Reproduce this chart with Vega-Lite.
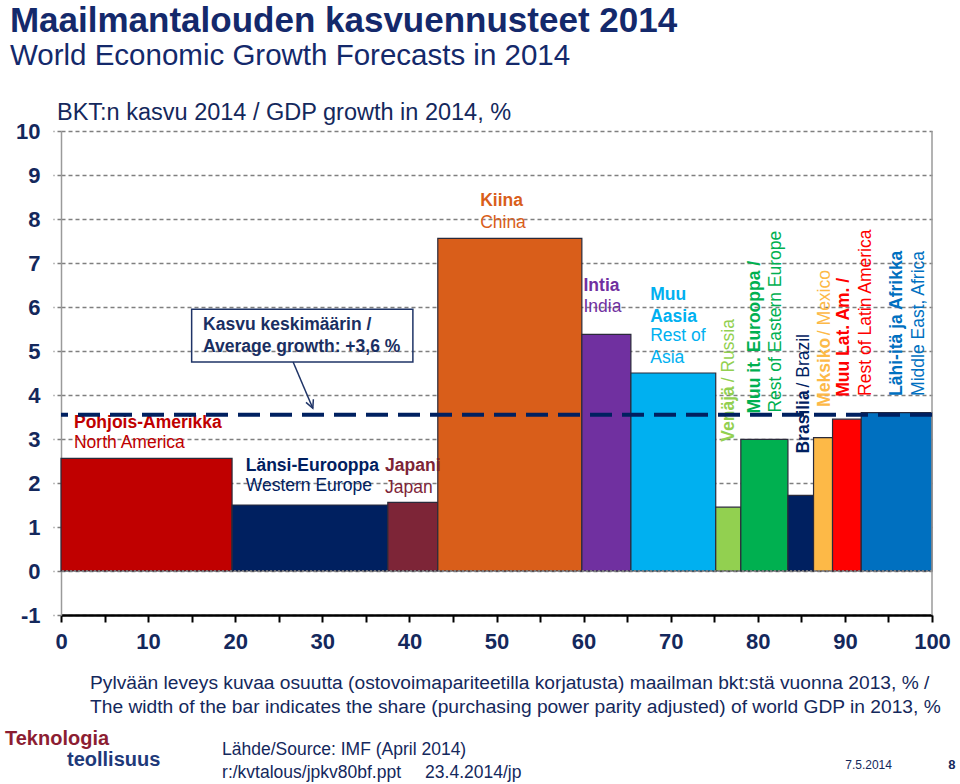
{
  "$schema": "https://vega.github.io/schema/vega-lite/v6.json",
  "width": 871,
  "height": 484,
  "autosize": "none",
  "padding": {"left": 61, "top": 131, "right": 28, "bottom": 169},
  "background": "white",
  "config": {"font": "Liberation Sans", "view": {"stroke": null}},
  "data": {"values": [{}]},
  "datasets": {
    "bars": [
      {"region": "North America", "x0": 0, "x1": 19.64, "growth": 2.56},
      {"region": "Western Europe", "x0": 19.64, "x1": 37.52, "growth": 1.5},
      {"region": "Japan", "x0": 37.52, "x1": 43.26, "growth": 1.56},
      {"region": "China", "x0": 43.26, "x1": 59.8, "growth": 7.56},
      {"region": "India", "x0": 59.8, "x1": 65.43, "growth": 5.38},
      {"region": "Rest of Asia", "x0": 65.43, "x1": 75.17, "growth": 4.5},
      {"region": "Russia", "x0": 75.17, "x1": 78.05, "growth": 1.45},
      {"region": "Rest of Eastern Europe", "x0": 78.05, "x1": 83.46, "growth": 2.99},
      {"region": "Brazil", "x0": 83.46, "x1": 86.4, "growth": 1.72},
      {"region": "Mexico", "x0": 86.4, "x1": 88.58, "growth": 3.03},
      {"region": "Rest of Latin America", "x0": 88.58, "x1": 91.88, "growth": 3.45},
      {"region": "Middle East and Africa", "x0": 91.88, "x1": 100, "growth": 3.6}
    ],
    "labelsBold": [
      {"region": "North America", "label": "Pohjois-Amerikka", "x": 1.49, "y": 3.37},
      {"region": "Western Europe", "label": "Länsi-Eurooppa", "x": 21.21, "y": 2.39},
      {"region": "Japan", "label": "Japani", "x": 37.21, "y": 2.39},
      {"region": "China", "label": "Kiina", "x": 48.12, "y": 8.42},
      {"region": "India", "label": "Intia", "x": 59.99, "y": 6.48},
      {"region": "Rest of Asia", "label": "Muu", "x": 67.65, "y": 6.27},
      {"region": "Rest of Asia", "label": "Aasia", "x": 67.65, "y": 5.78}
    ],
    "labelsPlain": [
      {"region": "North America", "label": "North America", "x": 1.49, "y": 2.91},
      {"region": "Western Europe", "label": "Western Europe", "x": 21.21, "y": 1.93},
      {"region": "Japan", "label": "Japan", "x": 37.21, "y": 1.89},
      {"region": "China", "label": "China", "x": 48.12, "y": 7.92},
      {"region": "India", "label": "India", "x": 59.99, "y": 6.0},
      {"region": "Rest of Asia", "label": "Rest of", "x": 67.65, "y": 5.33},
      {"region": "Rest of Asia", "label": "Asia", "x": 67.65, "y": 4.84}
    ],
    "vlabelsBold": [
      {"region": "Russia", "label": "Venäjä", "x": 76.7, "y": 2.94},
      {"region": "Rest of Eastern Europe", "label": "Muu it. Eurooppa /", "x": 79.7, "y": 3.58},
      {"region": "Brazil", "label": "Brasilia", "x": 85.25, "y": 2.67},
      {"region": "Mexico", "label": "Meksiko", "x": 87.75, "y": 3.73},
      {"region": "Rest of Latin America", "label": "Muu Lat. Am. /", "x": 89.85, "y": 3.96},
      {"region": "Middle East and Africa", "label": "Lähi-itä ja Afrikka", "x": 96.0, "y": 3.98}
    ],
    "vlabelsPlain": [
      {"region": "Russia", "label": "/ Russia", "x": 76.7, "y": 4.29},
      {"region": "Rest of Eastern Europe", "label": "Rest of Eastern Europe", "x": 82.1, "y": 3.6},
      {"region": "Brazil", "label": "/ Brazil", "x": 85.25, "y": 4.17},
      {"region": "Mexico", "label": "/ Mexico", "x": 87.75, "y": 5.36},
      {"region": "Rest of Latin America", "label": "Rest of Latin America", "x": 92.4, "y": 3.98},
      {"region": "Middle East and Africa", "label": "Middle East, Africa", "x": 98.5, "y": 3.98}
    ]
  },
  "layer": [
    {
      "data": {"name": "bars"},
      "mark": {"type": "rect", "stroke": "#2a2a3a", "strokeWidth": 1.2},
      "encoding": {
        "x": {
          "field": "x0", "type": "quantitative",
          "scale": {"domain": [0, 100], "nice": false, "zero": false},
          "axis": {
            "title": null,
            "values": [0, 2.5, 5, 7.5, 10, 12.5, 15, 17.5, 20, 22.5, 25, 27.5, 30, 32.5, 35, 37.5, 40, 42.5, 45, 47.5, 50, 52.5, 55, 57.5, 60, 62.5, 65, 67.5, 70, 72.5, 75, 77.5, 80, 82.5, 85, 87.5, 90, 92.5, 95, 97.5, 100],
            "labelExpr": "datum.value % 10 === 0 ? datum.label : ''",
            "labelFlush": false,
            "labelOverlap": false,
            "grid": false,
            "domainColor": "#000000",
            "domainWidth": 2.5,
            "tickColor": "#000000",
            "tickWidth": 2,
            "tickSize": 7,
            "labelFontSize": 22,
            "labelFontWeight": "bold",
            "labelColor": "#14285c",
            "labelPadding": 9
          }
        },
        "x2": {"field": "x1"},
        "y": {
          "field": "growth", "type": "quantitative",
          "scale": {"domain": [-1, 10], "nice": false, "zero": false},
          "axis": {
            "title": null,
            "values": [-1, 0, 1, 2, 3, 4, 5, 6, 7, 8, 9, 10],
            "labelExpr": "replace(datum.label, '−', '-')",
            "grid": true,
            "gridColor": "#7f7f7f",
            "gridDash": [4, 3],
            "gridWidth": 1.4,
            "domainColor": "#9a9a9a",
            "domainWidth": 1.5,
            "tickColor": "#7f7f7f",
            "tickDash": [4, 3],
            "tickSize": 8,
            "tickWidth": 1.4,
            "labelFontSize": 22,
            "labelFontWeight": "bold",
            "labelColor": "#14285c",
            "labelPadding": 13,
            "labelOverlap": false
          }
        },
        "y2": {"datum": 0},
        "color": {
          "field": "region", "type": "nominal", "legend": null,
          "scale": {
            "domain": ["North America", "Western Europe", "Japan", "China", "India", "Rest of Asia", "Russia", "Rest of Eastern Europe", "Brazil", "Mexico", "Rest of Latin America", "Middle East and Africa"],
            "range": ["#C00000", "#002060", "#7D2537", "#D95E1A", "#7030A0", "#00B0F0", "#92D050", "#00B050", "#002060", "#FDB947", "#FF0000", "#0070C0"]
          }
        }
      }
    },
    {
      "mark": {"type": "rule", "color": "#8a8a8a", "strokeWidth": 1.5, "strokeDash": [2, 2]},
      "encoding": {"y": {"datum": 0}}
    },
    {
      "mark": {"type": "rule", "color": "#9a9a9a", "strokeWidth": 1.5},
      "encoding": {"x": {"datum": 100}}
    },
    {
      "data": {"name": "labelsBold"},
      "mark": {"type": "text", "align": "left", "baseline": "middle", "fontSize": 17.5, "fontWeight": "bold"},
      "encoding": {
        "x": {"field": "x", "type": "quantitative"},
        "y": {"field": "y", "type": "quantitative"},
        "text": {"field": "label"},
        "color": {"field": "region", "type": "nominal", "legend": null}
      }
    },
    {
      "data": {"name": "labelsPlain"},
      "mark": {"type": "text", "align": "left", "baseline": "middle", "fontSize": 17.5},
      "encoding": {
        "x": {"field": "x", "type": "quantitative"},
        "y": {"field": "y", "type": "quantitative"},
        "text": {"field": "label"},
        "color": {"field": "region", "type": "nominal", "legend": null}
      }
    },
    {
      "data": {"name": "vlabelsBold"},
      "mark": {"type": "text", "align": "left", "baseline": "middle", "angle": 270, "fontSize": 17.5, "fontWeight": "bold"},
      "encoding": {
        "x": {"field": "x", "type": "quantitative"},
        "y": {"field": "y", "type": "quantitative"},
        "text": {"field": "label"},
        "color": {"field": "region", "type": "nominal", "legend": null}
      }
    },
    {
      "data": {"name": "vlabelsPlain"},
      "mark": {"type": "text", "align": "left", "baseline": "middle", "angle": 270, "fontSize": 17.5},
      "encoding": {
        "x": {"field": "x", "type": "quantitative"},
        "y": {"field": "y", "type": "quantitative"},
        "text": {"field": "label"},
        "color": {"field": "region", "type": "nominal", "legend": null}
      }
    },
    {
      "mark": {"type": "rule", "color": "#002060", "strokeWidth": 4, "strokeDash": [22, 10]},
      "encoding": {"y": {"datum": 3.55}}
    },
    {
      "mark": {"type": "rect", "fill": null, "fillOpacity": 0, "stroke": "#1f3467", "strokeWidth": 1.5},
      "encoding": {
        "x": {"datum": 15.0}, "x2": {"datum": 40.4},
        "y": {"datum": 5.95}, "y2": {"datum": 4.75}
      }
    },
    {
      "mark": {"type": "text", "align": "left", "baseline": "middle", "fontSize": 17.5, "fontWeight": "bold", "color": "#1a2f62"},
      "encoding": {"x": {"datum": 16.31}, "y": {"datum": 5.59}, "text": {"value": "Kasvu keskimäärin /"}}
    },
    {
      "mark": {"type": "text", "align": "left", "baseline": "middle", "fontSize": 17.5, "fontWeight": "bold", "color": "#1a2f62"},
      "encoding": {"x": {"datum": 16.31}, "y": {"datum": 5.09}, "text": {"value": "Average growth: +3,6 %"}}
    },
    {
      "mark": {"type": "rule", "color": "#1f3467", "strokeWidth": 1.5},
      "encoding": {"x": {"datum": 26.65}, "y": {"datum": 4.75}, "x2": {"datum": 28.91}, "y2": {"datum": 3.7}}
    },
    {
      "mark": {"type": "point", "shape": "M-0.5,-1L0,0L0.5,-1", "filled": false, "stroke": "#1f3467", "strokeWidth": 1.5, "size": 256, "angle": 337, "opacity": 1},
      "encoding": {"x": {"datum": 28.91}, "y": {"datum": 3.7}}
    },
    {
      "mark": {"type": "text", "align": "left", "baseline": "middle", "fontSize": 35, "fontWeight": "bold", "color": "#14296b"},
      "encoding": {"x": {"datum": -5.86}, "y": {"datum": 12.5}, "text": {"value": "Maailmantalouden kasvuennusteet 2014"}}
    },
    {
      "mark": {"type": "text", "align": "left", "baseline": "middle", "fontSize": 29.5, "color": "#14296b"},
      "encoding": {"x": {"datum": -5.86}, "y": {"datum": 11.71}, "text": {"value": "World Economic Growth Forecasts in 2014"}}
    },
    {
      "mark": {"type": "text", "align": "left", "baseline": "middle", "fontSize": 23.5, "color": "#14285c"},
      "encoding": {"x": {"datum": -0.46}, "y": {"datum": 10.41}, "text": {"value": "BKT:n kasvu 2014 / GDP growth in 2014, %"}}
    },
    {
      "mark": {"type": "text", "align": "left", "baseline": "middle", "fontSize": 19.2, "color": "#14285c"},
      "encoding": {"x": {"datum": 3.33}, "y": {"datum": -2.55}, "text": {"value": "Pylvään leveys kuvaa osuutta (ostovoimapariteetilla korjatusta) maailman bkt:stä vuonna 2013, % /"}}
    },
    {
      "mark": {"type": "text", "align": "left", "baseline": "middle", "fontSize": 19.2, "color": "#14285c"},
      "encoding": {"x": {"datum": 3.33}, "y": {"datum": -3.09}, "text": {"value": "The width of the bar indicates the share (purchasing power parity adjusted) of world GDP in 2013, %"}}
    },
    {
      "mark": {"type": "text", "align": "left", "baseline": "middle", "fontSize": 20, "fontWeight": "bold", "color": "#8c1d32"},
      "encoding": {"x": {"datum": -6.43}, "y": {"datum": -3.82}, "text": {"value": "Teknologia"}}
    },
    {
      "mark": {"type": "text", "align": "left", "baseline": "middle", "fontSize": 20, "fontWeight": "bold", "color": "#1f3a7a"},
      "encoding": {"x": {"datum": 0.69}, "y": {"datum": -4.3}, "text": {"value": "teollisuus"}}
    },
    {
      "mark": {"type": "text", "align": "left", "baseline": "middle", "fontSize": 17.5, "color": "#14285c"},
      "encoding": {"x": {"datum": 18.49}, "y": {"datum": -4.07}, "text": {"value": "Lähde/Source: IMF (April 2014)"}}
    },
    {
      "mark": {"type": "text", "align": "left", "baseline": "middle", "fontSize": 17.5, "color": "#14285c"},
      "encoding": {"x": {"datum": 18.49}, "y": {"datum": -4.59}, "text": {"value": "r:/kvtalous/jpkv80bf.ppt"}}
    },
    {
      "mark": {"type": "text", "align": "left", "baseline": "middle", "fontSize": 17.5, "color": "#14285c"},
      "encoding": {"x": {"datum": 41.8}, "y": {"datum": -4.59}, "text": {"value": "23.4.2014/jp"}}
    },
    {
      "mark": {"type": "text", "align": "left", "baseline": "middle", "fontSize": 12, "color": "#14285c"},
      "encoding": {"x": {"datum": 90.04}, "y": {"datum": -4.41}, "text": {"value": "7.5.2014"}}
    },
    {
      "mark": {"type": "text", "align": "left", "baseline": "middle", "fontSize": 13, "fontWeight": "bold", "color": "#14285c"},
      "encoding": {"x": {"datum": 101.87}, "y": {"datum": -4.41}, "text": {"value": "8"}}
    }
  ]
}
